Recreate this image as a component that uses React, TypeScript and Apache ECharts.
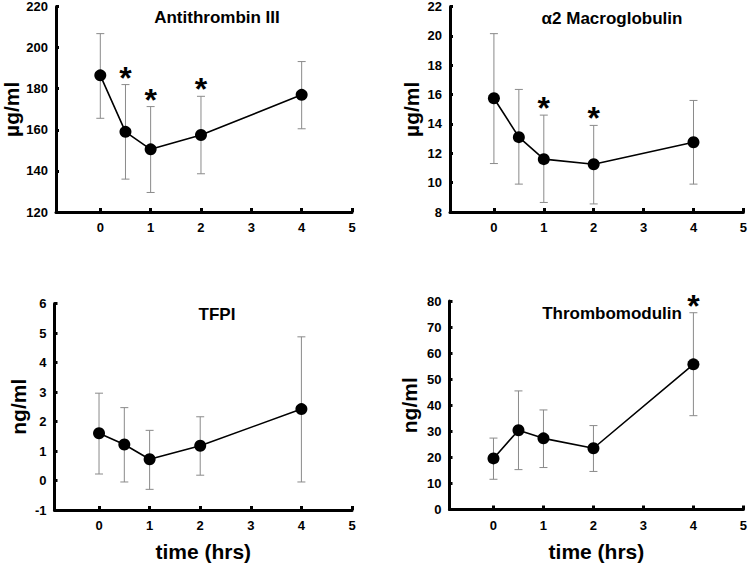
import React, { useEffect, useRef } from "react";
import * as echarts from "echarts";

const times = [0, 0.5, 1, 2, 4];
const xTicks = [0, 1, 2, 3, 4, 5];

const at3Mean = [186.5, 159, 150.5, 157.5, 177];
const at3Upper = [206.8, 182, 171.3, 176.3, 193.2];
const at3Lower = [165.6, 136, 129.5, 138.6, 160.5];
const at3Sig = [false, true, true, true, false];

const a2mMean = [15.75, 13.1, 11.6, 11.25, 12.75];
const a2mUpper = [20.15, 16.35, 14.6, 13.9, 15.6];
const a2mLower = [11.3, 9.9, 8.65, 8.55, 9.9];
const a2mSig = [false, false, true, true, false];

const tfpiMean = [1.6, 1.22, 0.72, 1.18, 2.42];
const tfpiUpper = [2.96, 2.47, 1.7, 2.16, 4.87];
const tfpiLower = [0.22, -0.05, -0.3, 0.18, -0.05];
const tfpiSig = [false, false, false, false, false];

const tmMean = [19.6, 30.4, 27.3, 23.5, 55.7];
const tmUpper = [27.4, 45.5, 38.2, 32.2, 75.5];
const tmLower = [11.6, 15.3, 16.1, 14.6, 36];
const tmSig = [false, false, false, false, true];

const panels = [
  { title: "Antithrombin III", unit: "µg/ml", min: 120, max: 220, interval: 20, mean: at3Mean, upper: at3Upper, lower: at3Lower, sig: at3Sig, xName: "" },
  { title: "α2 Macroglobulin", unit: "µg/ml", min: 8, max: 22, interval: 2, mean: a2mMean, upper: a2mUpper, lower: a2mLower, sig: a2mSig, xName: "" },
  { title: "TFPI", unit: "ng/ml", min: -1, max: 6, interval: 1, mean: tfpiMean, upper: tfpiUpper, lower: tfpiLower, sig: tfpiSig, xName: "time (hrs)" },
  { title: "Thrombomodulin", unit: "ng/ml", min: 0, max: 80, interval: 10, mean: tmMean, upper: tmUpper, lower: tmLower, sig: tmSig, xName: "time (hrs)" },
];

const grids = [
  { left: 54.5, top: 5, width: 297.5, height: 207 },
  { left: 450, top: 5, width: 297.5, height: 207 },
  { left: 54.5, top: 303.5, width: 297.5, height: 207.5 },
  { left: 449.5, top: 301, width: 297.5, height: 208.5 },
];
const titlePos = [
  { x: 212, y: 4 },
  { x: 607, y: 5 },
  { x: 212, y: 301 },
  { x: 607, y: 300 },
];
const nameGaps = [34, 28, 26, 30];

const FONT = "Liberation Sans, Arial, sans-serif";

export default function App() {
  const ref = useRef<HTMLDivElement>(null);
  useEffect(() => {
    const chart = echarts.init(ref.current!, null, { renderer: "svg" });
    const grid: any[] = [];
    const xAxis: any[] = [];
    const yAxis: any[] = [];
    const series: any[] = [];
    const title: any[] = [];
    panels.forEach((p, i) => {
      grid.push(grids[i]);
      title.push({
        text: p.title,
        left: titlePos[i].x,
        top: titlePos[i].y,
        textAlign: "center",
        textStyle: { fontFamily: FONT, fontWeight: "bold", fontSize: 17, color: "#000" },
      });
      xAxis.push({
        type: "value",
        gridIndex: i,
        min: -0.88,
        max: 5,
        splitLine: { show: false },
        axisLine: { show: true, onZero: false, lineStyle: { color: "#000", width: 3 } },
        axisTick: { show: true, inside: true, length: 4, customValues: xTicks, lineStyle: { color: "#000", width: 3 } },
        axisLabel: { show: true, customValues: xTicks, margin: 9, fontFamily: FONT, fontWeight: "bold", fontSize: 13, color: "#000" },
        name: p.xName,
        nameLocation: "middle",
        nameGap: 31,
        nameTextStyle: { fontFamily: FONT, fontWeight: "bold", fontSize: 21, color: "#000" },
      });
      yAxis.push({
        type: "value",
        gridIndex: i,
        min: p.min,
        max: p.max,
        interval: p.interval,
        splitLine: { show: false },
        axisLine: { show: true, onZero: false, lineStyle: { color: "#000", width: 3 } },
        axisTick: { show: true, inside: true, length: 3, lineStyle: { color: "#000", width: 3 } },
        axisLabel: { margin: 8, fontFamily: FONT, fontWeight: "bold", fontSize: 13, color: "#000" },
        name: p.unit,
        nameLocation: "middle",
        nameGap: nameGaps[i],
        nameTextStyle: { fontFamily: FONT, fontWeight: "bold", fontSize: 21, color: "#000" },
      });
      const errData = times.map((t, k) => [t, p.lower[k], p.upper[k]]);
      series.push({
        type: "custom",
        xAxisIndex: i,
        yAxisIndex: i,
        z: 1,
        silent: true,
        data: errData,
        renderItem: (params: any, api: any) => {
          const x = api.value(0);
          const lo = api.coord([x, api.value(1)]);
          const hi = api.coord([x, api.value(2)]);
          const cw = 4;
          const st = { stroke: "#8a8a8a", lineWidth: 1 };
          return {
            type: "group",
            children: [
              { type: "line", shape: { x1: lo[0], y1: lo[1], x2: hi[0], y2: hi[1] }, style: st },
              { type: "line", shape: { x1: lo[0] - cw, y1: lo[1], x2: lo[0] + cw, y2: lo[1] }, style: st },
              { type: "line", shape: { x1: hi[0] - cw, y1: hi[1], x2: hi[0] + cw, y2: hi[1] }, style: st },
            ],
          };
        },
      });
      series.push({
        type: "line",
        xAxisIndex: i,
        yAxisIndex: i,
        z: 3,
        data: times.map((t, k) => [t, p.mean[k]]),
        symbol: "circle",
        symbolSize: 12,
        itemStyle: { color: "#000" },
        lineStyle: { color: "#000", width: 1.6 },
      });
      const sigData = times.map((t, k) => [t, p.upper[k]]).filter((_, k) => p.sig[k]);
      series.push({
        type: "custom",
        xAxisIndex: i,
        yAxisIndex: i,
        z: 4,
        silent: true,
        data: sigData,
        renderItem: (params: any, api: any) => {
          const pt = api.coord([api.value(0), api.value(1)]);
          return {
            type: "text",
            x: pt[0],
            y: pt[1] - 7,
            style: {
              text: "*",
              fontFamily: FONT,
              fontWeight: "bold",
              fontSize: 32,
              fill: "#000",
              align: "center",
              verticalAlign: "middle",
            },
          };
        },
      });
    });
    chart.setOption({
      animation: false,
      backgroundColor: "#fff",
      title,
      grid,
      xAxis,
      yAxis,
      series,
    });
    return () => chart.dispose();
  }, []);
  return <div ref={ref} style={{ position: "absolute", left: 0, top: 0, width: 750, height: 563 }} />;
}
